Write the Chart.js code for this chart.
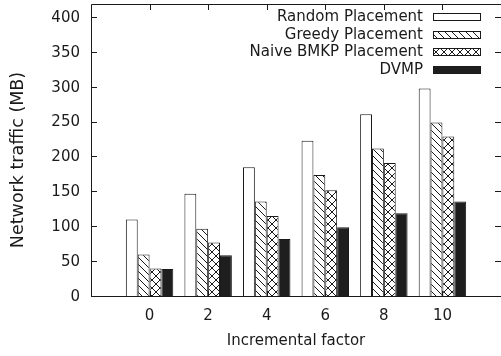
<!DOCTYPE html>
<html>
<head>
<meta charset="utf-8">
<script src="https://cdn.jsdelivr.net/npm/chart.js@4/dist/chart.umd.min.js"></script>
<style>
  html, body { margin: 0; padding: 0; background: #fff; overflow: hidden; }
</style>
</head>
<body>
<canvas id="grafica" width="501" height="356"></canvas>
<script>
var categorias = ['0', '2', '4', '6', '8', '10'];
var random_placement = [111, 148, 186, 224, 262, 299];
var greedy_placement = [61, 98, 137, 175, 213, 250];
var naive_bmkp = [41, 78, 116, 153, 192, 230];
var dvmp = [40, 60, 83, 100, 120, 137];
var nombres_series = ['Random Placement', 'Greedy Placement', 'Naive BMKP Placement', 'DVMP'];
var y_ticks = [0, 50, 100, 150, 200, 250, 300, 350, 400];
var titulo_y = 'Network traffic (MB)';

var color_linea = '#1a1a1a';

function patronRayas(){
    var c = document.createElement('canvas');
    c.width = 7; c.height = 7;
    var ctx = c.getContext('2d');
    ctx.fillStyle = '#fff';
    ctx.fillRect(0, 0, 7, 7);
    ctx.strokeStyle = color_linea;
    ctx.lineWidth = 1;
    for(var k = -1; k <= 1; k++){
        ctx.beginPath();
        ctx.moveTo(-1, k * 7 - 1);
        ctx.lineTo(8, k * 7 + 8);
        ctx.stroke();
    }
    return ctx.createPattern(c, 'repeat');
}

function patronCruzado(){
    var c = document.createElement('canvas');
    c.width = 8; c.height = 8;
    var ctx = c.getContext('2d');
    ctx.fillStyle = '#fff';
    ctx.fillRect(0, 0, 8, 8);
    ctx.strokeStyle = color_linea;
    ctx.lineWidth = 1;
    for(var k = -1; k <= 1; k++){
        ctx.beginPath();
        ctx.moveTo(-1, k * 8 - 1);
        ctx.lineTo(9, k * 8 + 9);
        ctx.stroke();
        ctx.beginPath();
        ctx.moveTo(-1, k * 8 + 9);
        ctx.lineTo(9, k * 8 - 1);
        ctx.stroke();
    }
    return ctx.createPattern(c, 'repeat');
}

// empty slot on each side, like the original plot
function relleno(arr){
    return [null].concat(arr).concat([null]);
}

// frame with inward ticks, legend at top right, y title
var marcoPlugin = {
    id: 'marco',
    afterDatasetsDraw: function(chart){
        var ctx = chart.ctx;
        var a = chart.chartArea;
        var xs = chart.scales.x;
        var ys = chart.scales.y;
        ctx.save();
        ctx.strokeStyle = color_linea;
        ctx.lineWidth = 1;
        ctx.beginPath();
        // right side of the border falls just outside the picture
        ctx.moveTo(a.right, a.top + 0.5);
        ctx.lineTo(a.left + 0.5, a.top + 0.5);
        ctx.lineTo(a.left + 0.5, a.bottom - 0.5);
        ctx.lineTo(a.right, a.bottom - 0.5);
        y_ticks.forEach(function(v){
            var py = Math.round(ys.getPixelForValue(v)) - 0.5;
            ctx.moveTo(a.left, py); ctx.lineTo(a.left + 6, py);
            ctx.moveTo(a.right, py); ctx.lineTo(a.right - 6, py);
        });
        categorias.forEach(function(c, i){
            var px = Math.round(xs.getPixelForValue(i + 1)) + 0.5;
            ctx.moveTo(px, a.top); ctx.lineTo(px, a.top + 6);
            ctx.moveTo(px, a.bottom); ctx.lineTo(px, a.bottom - 6);
        });
        ctx.stroke();

        // legend
        ctx.font = '15px "DejaVu Sans"';
        ctx.textAlign = 'right';
        ctx.textBaseline = 'middle';
        chart.data.datasets.forEach(function(ds, i){
            var cy = 17 + i * 17.7;
            ctx.fillStyle = color_linea;
            ctx.fillText(ds.label, 423, cy);
            ctx.fillStyle = ds.backgroundColor;
            ctx.fillRect(433, Math.round(cy - 4), 48, 8);
            ctx.strokeRect(433.5, Math.round(cy - 4) + 0.5, 47, 7);
        });

        // y title (sits a bit below the middle of the axis in the original)
        ctx.translate(18, 160);
        ctx.rotate(-Math.PI / 2);
        ctx.font = '17.5px "DejaVu Sans"';
        ctx.textAlign = 'center';
        ctx.fillStyle = color_linea;
        ctx.fillText(titulo_y, 0, 0);
        ctx.restore();
    }
};

var etiquetas = [''].concat(categorias).concat(['']);
var fondos = ['#ffffff', patronRayas(), patronCruzado(), '#1e1e1e'];
var valores = [random_placement, greedy_placement, naive_bmkp, dvmp];

var datasets = [];
for(var i = 0; i < nombres_series.length; i++){
    datasets.push({
        label: nombres_series[i],
        data: relleno(valores[i]),
        backgroundColor: fondos[i],
        borderColor: color_linea,
        borderWidth: 1,
        categoryPercentage: 0.81,
        barPercentage: 1.0
    });
}

Chart.defaults.font.family = '"DejaVu Sans", sans-serif';
Chart.defaults.color = color_linea;

var ctx = document.getElementById('grafica').getContext('2d');
window.myBar = new Chart(ctx, {
    type: 'bar',
    data: { labels: etiquetas, datasets: datasets },
    plugins: [marcoPlugin],
    options: {
        responsive: false,
        animation: false,
        layout: { padding: { top: 4, right: -1, bottom: 0, left: 0 } },
        plugins: {
            legend: { display: false },
            tooltip: { enabled: false }
        },
        scales: {
            x: {
                offset: false,
                grid: { display: false, drawTicks: false },
                border: { display: false },
                ticks: { font: { size: 15 }, padding: 10, maxRotation: 0, autoSkip: false },
                title: { display: true, text: 'Incremental factor', font: { size: 15 }, padding: { top: 0, bottom: 6 } },
                afterFit: function(scale){
                    scale.height = 59;
                    scale.paddingLeft = 0;
                    scale.paddingRight = 0;
                }
            },
            y: {
                min: 0,
                max: 420,
                grid: { display: false, drawTicks: false },
                border: { display: false },
                ticks: { stepSize: 50, font: { size: 15 }, padding: 11 },
                afterBuildTicks: function(scale){
                    scale.ticks = y_ticks.map(function(v){ return { value: v }; });
                },
                afterFit: function(scale){
                    scale.width = 91;
                    scale.paddingTop = 0;
                    scale.paddingBottom = 0;
                }
            }
        }
    }
});
</script>
</body>
</html>
